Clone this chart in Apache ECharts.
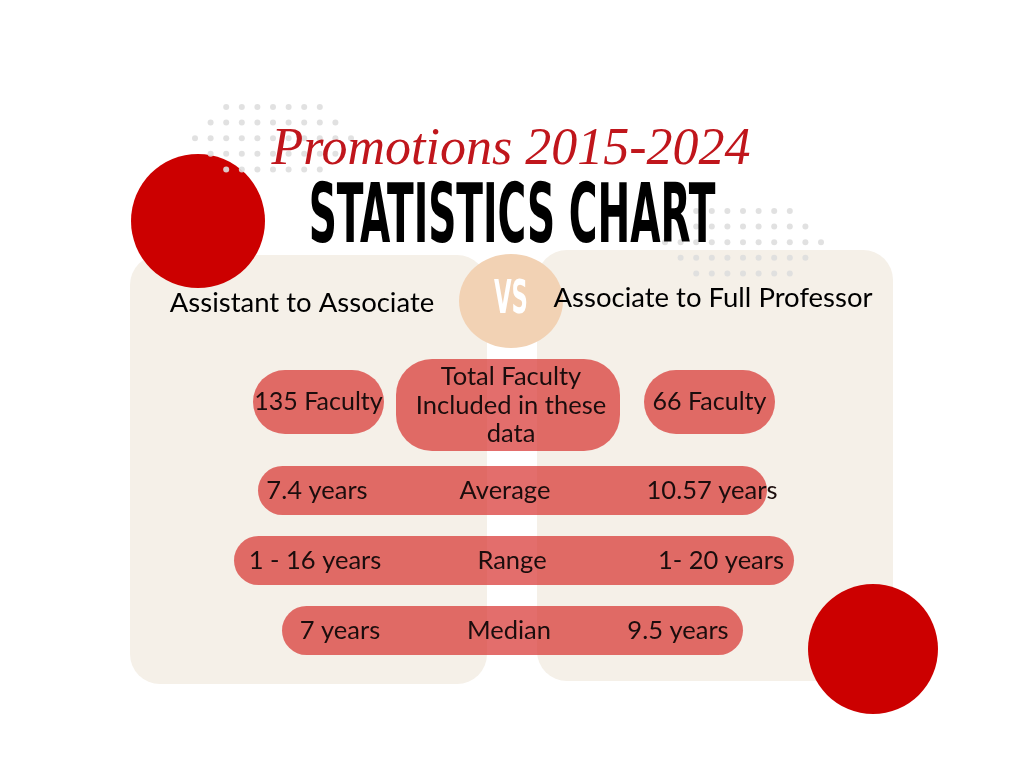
<!DOCTYPE html>
<html>
<head>
<meta charset="utf-8">
<script src="https://cdn.jsdelivr.net/npm/echarts@6/dist/echarts.min.js"></script>
<style>
html,body{margin:0;padding:0;background:#fff;}
#main{width:1024px;height:768px;}
</style>
</head>
<body>
<div id="main"></div>
<script>
// ---- data ----
const titleText = 'Promotions 2015-2024';
const subtitleText = 'STATISTICS CHART';
const groups = ['Assistant to Associate', 'Associate to Full Professor'];
const facultyCounts = [135, 66];
const totalLabel = ['Total Faculty', 'Included in these', 'data'];
const metrics = ['Average', 'Range', 'Median'];
const leftValues = ['7.4 years', '1 - 16 years', '7 years'];
const rightValues = ['10.57 years', '1- 20 years', '9.5 years'];
const vsText = 'VS';

// ---- layout ----
const PILL = 'rgba(215,48,46,0.7)';
const TXT = '#1b0d0d';
const BODY_FONT = 'Lato, "Open Sans", sans-serif';
const NARROW_FONT = '"Liberation Sans Narrow", "DejaVu Sans Condensed", sans-serif';

const chart = echarts.init(document.getElementById('main'), null, {renderer: 'canvas'});
const els = [];

// panels
els.push({type:'rect', shape:{x:130,y:255,width:357,height:429,r:30}, style:{fill:'#f5f0e8'}, z:1});
els.push({type:'rect', shape:{x:537,y:250,width:356,height:431,r:30}, style:{fill:'#f5f0e8'}, z:1});

// big red circles
els.push({type:'circle', shape:{cx:198,cy:221,r:67}, style:{fill:'#cc0000'}, z:2});
els.push({type:'circle', shape:{cx:873,cy:649,r:65}, style:{fill:'#cc0000'}, z:2});

// dot grids
function dotGrid(x0, y0, rows) {
  rows.forEach((rg, j) => {
    for (let i = rg[0]; i <= rg[1]; i++) {
      els.push({type:'circle', shape:{cx:x0 + i*15.6, cy:y0 + j*15.6, r:3},
        style:{fill:'rgba(222,222,222,0.9)'}, z:3});
    }
  });
}
dotGrid(195, 107, [[2,8],[1,9],[0,10],[1,9],[2,8]]);
dotGrid(665, 211, [[2,8],[1,9],[0,10],[1,9],[2,8]]);

// titles
els.push({type:'text', x:511, y:150, z:10,
  style:{text:titleText, fill:'#c0161c', font:'italic 52px "Liberation Serif", serif',
    textAlign:'center', textVerticalAlign:'middle'}});
els.push({type:'text', x:512, y:221, scaleX:0.53, z:10,
  style:{text:subtitleText, fill:'#000', font:'bold 82px ' + NARROW_FONT,
    textAlign:'center', textVerticalAlign:'middle'}});

// VS ellipse
els.push({type:'ellipse', shape:{cx:511,cy:301,rx:52,ry:47}, style:{fill:'#f2d2b4'}, z:5});
els.push({type:'text', x:511, y:301, scaleX:0.55, z:11,
  style:{text:vsText, fill:'#fff', font:'bold 46px ' + NARROW_FONT,
    textAlign:'center', textVerticalAlign:'middle'}});

// group headers
const headerPos = [[302,303],[713,298]];
groups.forEach((g, i) => {
  els.push({type:'text', x:headerPos[i][0], y:headerPos[i][1], z:10,
    style:{text:g, fill:'#000', font:'27.5px ' + BODY_FONT, textAlign:'center', textVerticalAlign:'middle'}});
});

// faculty pills
const facPills = [{x:253,y:370,w:131,h:64},{x:644,y:370,w:131,h:64}];
facultyCounts.forEach((c, i) => {
  const p = facPills[i];
  els.push({type:'rect', shape:{x:p.x,y:p.y,width:p.w,height:p.h,r:32}, style:{fill:PILL}, z:6});
  els.push({type:'text', x:p.x + p.w/2, y:p.y + p.h/2, z:10,
    style:{text:c + ' Faculty', fill:TXT, font:'25px ' + BODY_FONT, textAlign:'center', textVerticalAlign:'middle'}});
});
// total pill
els.push({type:'rect', shape:{x:396,y:359,width:224,height:92,r:36}, style:{fill:PILL}, z:6});
totalLabel.forEach((t, k) => {
  els.push({type:'text', x:511, y:377 + k*28.5, z:10,
    style:{text:t, fill:TXT, font:'25.5px ' + BODY_FONT, textAlign:'center', textVerticalAlign:'middle'}});
});

// metric rows
const rowPills = [{x:258,y:466,w:509},{x:234,y:536,w:560},{x:282,y:606,w:461}];
const leftX = [317,315,340];
const midX = [505,512,509];
const rightX = [712,721,678];
metrics.forEach((m, i) => {
  const p = rowPills[i];
  els.push({type:'rect', shape:{x:p.x,y:p.y,width:p.w,height:49,r:24.5}, style:{fill:PILL}, z:6});
  const cy = p.y + 25;
  [[leftValues[i], leftX[i]], [m, midX[i]], [rightValues[i], rightX[i]]].forEach(([t, x]) => {
    els.push({type:'text', x:x, y:cy, z:10,
      style:{text:t, fill:TXT, font:'25.5px ' + BODY_FONT, textAlign:'center', textVerticalAlign:'middle'}});
  });
});

chart.setOption({backgroundColor:'#ffffff', animation:false, graphic:{elements:els}});
</script>
</body>
</html>
